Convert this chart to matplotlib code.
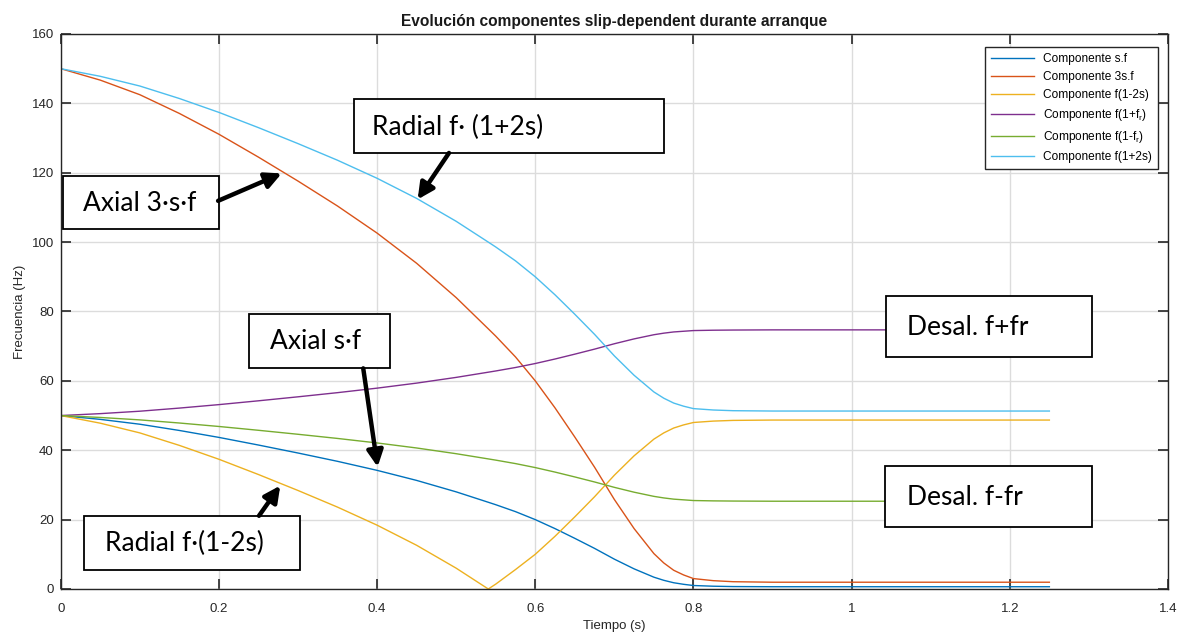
import numpy as np
import matplotlib
matplotlib.use("Agg")
import matplotlib.pyplot as plt
from matplotlib.patches import Rectangle

plt.rcParams['font.family'] = ['Liberation Sans', 'DejaVu Sans']
plt.rcParams['mathtext.fontset'] = 'custom'
plt.rcParams['mathtext.rm'] = 'Liberation Sans'

# tiempo (s)
t = [0, 0.05, 0.1, 0.15, 0.2, 0.25, 0.3, 0.35, 0.4, 0.45, 0.5, 0.5406, 0.55,
     0.575, 0.6, 0.625, 0.65, 0.675, 0.7, 0.725, 0.75, 0.7625, 0.775, 0.7875,
     0.8, 0.825, 0.85, 0.9, 1.0, 1.1, 1.25]

# frecuencias (Hz)
sf = [50.0, 48.9, 47.5, 45.7, 43.7, 41.5, 39.2, 36.8, 34.2, 31.3, 28.0, 25.0, 24.3,
      22.3, 20.0, 17.4, 14.6, 11.7, 8.6, 5.8, 3.4, 2.5, 1.8, 1.35,
      1.0, 0.8, 0.7, 0.65, 0.65, 0.65, 0.65]
sf3 = [150.0, 146.7, 142.5, 137.1, 131.1, 124.5, 117.6, 110.4, 102.6, 93.9, 84.0, 75.0, 72.9,
       66.9, 60.0, 52.2, 43.8, 35.1, 25.8, 17.4, 10.2, 7.5, 5.4, 4.05,
       3.0, 2.4, 2.1, 1.95, 1.95, 1.95, 1.95]
f_1m2s = [50.0, 47.8, 45.0, 41.4, 37.4, 33.0, 28.4, 23.6, 18.4, 12.6, 6.0, 0.0, 1.4,
          5.6, 10.0, 15.2, 20.8, 26.6, 32.8, 38.4, 43.2, 45.0, 46.4, 47.3,
          48.0, 48.4, 48.6, 48.7, 48.7, 48.7, 48.7]
f_1pfr = [50.0, 50.55, 51.25, 52.15, 53.15, 54.25, 55.4, 56.6, 57.9, 59.35, 61.0, 62.5, 62.85,
          63.85, 65.0, 66.3, 67.7, 69.15, 70.7, 72.1, 73.3, 73.75, 74.1, 74.3,
          74.5, 74.6, 74.65, 74.7, 74.7, 74.7, 74.7]
f_1mfr = [50.0, 49.45, 48.75, 47.85, 46.85, 45.75, 44.6, 43.4, 42.1, 40.65, 39.0, 37.5, 37.15,
          36.15, 35.0, 33.7, 32.3, 30.85, 29.3, 27.9, 26.7, 26.25, 25.9, 25.7,
          25.5, 25.4, 25.35, 25.3, 25.3, 25.3, 25.3]
f_1p2s = [150.0, 147.8, 145.0, 141.4, 137.4, 133.0, 128.4, 123.6, 118.4, 112.6, 106.0, 100.0, 98.6,
          94.6, 90.0, 84.8, 79.2, 73.4, 67.2, 61.6, 56.8, 55.0, 53.6, 52.7,
          52.0, 51.6, 51.4, 51.3, 51.3, 51.3, 51.3]

series = [
    (sf, 'Componente s.f', '#0072BD'),
    (sf3, 'Componente 3s.f', '#D95319'),
    (f_1m2s, 'Componente f(1-2s)', '#EDB120'),
    (f_1pfr, r'Componente f(1+f$_\mathrm{r}$)', '#7E2F8E'),
    (f_1mfr, r'Componente f(1-f$_\mathrm{r}$)', '#77AC30'),
    (f_1p2s, 'Componente f(1+2s)', '#4DBEEE'),
]

xticks = [0, 0.2, 0.4, 0.6, 0.8, 1.0, 1.2, 1.4]
xticklabels = ['0', '0.2', '0.4', '0.6', '0.8', '1', '1.2', '1.4']
yticks = [0, 20, 40, 60, 80, 100, 120, 140, 160]

fig = plt.figure(figsize=(11.81, 6.34), dpi=100)
ax = fig.add_axes([0.0514, 0.071, 0.9376, 0.8754])

for y, lab, c in series:
    ax.plot(t, y, color=c, lw=1.0, label=lab)

ax.set_xlim(0, 1.4)
ax.set_ylim(0, 160)
ax.set_xticks(xticks)
ax.set_xticklabels(xticklabels)
ax.set_yticks(yticks)
ax.grid(True, color='#dcdcdc', lw=1.0)
ax.set_axisbelow(True)
ax.tick_params(direction='in', length=7, width=1.2, colors='#262626', labelsize=9.5,
               top=True, right=True)
ax.tick_params(axis='x', pad=10)
ax.tick_params(axis='y', pad=5)
for sp in ax.spines.values():
    sp.set_color('#262626')
    sp.set_linewidth(1.0)

ax.set_xlabel('Tiempo (s)', fontsize=9.5, color='#262626', labelpad=4)
ax.set_ylabel('Frecuencia (Hz)', fontsize=9.5, color='#262626', labelpad=4)
ax.set_title('Evolución componentes slip-dependent durante arranque',
             fontsize=11.2, fontweight='bold', color='#1a1a1a', pad=6)

leg = ax.legend(loc='upper right', bbox_to_anchor=(1158 / 1181, 1 - 47 / 634),
                bbox_transform=fig.transFigure, borderaxespad=0, fontsize=8.6,
                fancybox=False, edgecolor='#262626', handlelength=3.6,
                labelspacing=0.5, borderpad=0.5, handletextpad=0.8)
leg.get_frame().set_linewidth(1.0)
leg.get_frame().set_alpha(1)

# cajas de anotacion
boxes = [
    ('Axial 3·s·f', 0.0025, 0.2005, 103.7, 119.2, 0.1000, 'center'),
    ('Radial f· (1+2s)', 0.3708, 0.763, 125.7, 141.2, 0.3935, 'left'),
    ('Axial s·f', 0.2384, 0.4163, 63.8, 79.25, 0.2645, 'left'),
    ('Radial f·(1-2s)', 0.0298, 0.3029, 5.5, 21.1, 0.0560, 'left'),
    ('Desal. f+fr', 1.0432, 1.3037, 66.8, 84.4, 1.0698, 'left'),
    ('Desal. f-fr', 1.0423, 1.3037, 17.8, 35.4, 1.0698, 'left'),
]
for txt, x0, x1, y0, y1, tx, ha in boxes:
    ax.add_patch(Rectangle((x0, y0), x1 - x0, y1 - y0, facecolor='white',
                           edgecolor='black', lw=1.3, zorder=5, clip_on=False))
    ax.text(tx, (y0 + y1) / 2 - 0.3, txt, ha=ha, va='center', fontsize=19,
            family=['Lato', 'DejaVu Sans'], color='black', zorder=6)

arrows = [
    ((0.199, 111.9), (0.2794, 119.8)),
    ((0.4909, 125.7), (0.4513, 112.3)),
    ((0.3825, 63.6), (0.4007, 35.2)),
    ((0.2507, 21.1), (0.2776, 29.8)),
]
for tail, tip in arrows:
    ax.annotate('', xy=tip, xytext=tail, zorder=7,
                arrowprops=dict(arrowstyle='-|>', lw=3.2, color='black',
                                mutation_scale=24, shrinkA=0, shrinkB=0))

fig.savefig('out.png', dpi=100)
